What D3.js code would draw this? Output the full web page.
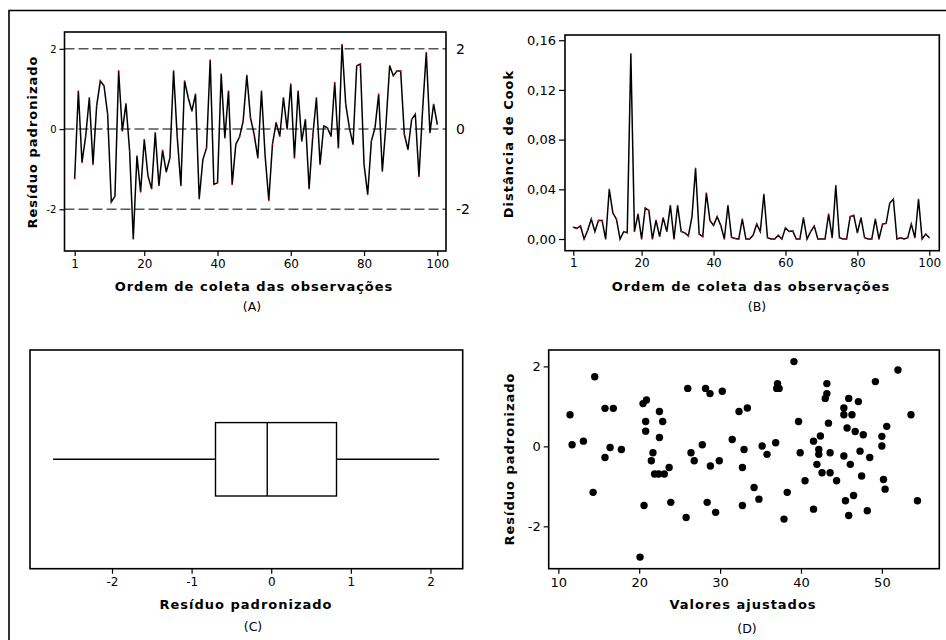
<!DOCTYPE html>
<html><head><meta charset="utf-8">
<script src="https://cdn.jsdelivr.net/npm/d3@7"></script>
<style>
body{margin:0;background:#fff;}
svg{display:block;}
.lbl{font-family:"DejaVu Sans",sans-serif;font-weight:bold;font-size:13px;letter-spacing:1px;fill:#000;}
.tag{font-family:"DejaVu Sans",sans-serif;font-size:12.5px;fill:#000;}
.tick text{font-family:"DejaVu Sans",sans-serif;fill:#000;}
</style></head>
<body>
<svg id="c" width="946" height="640"></svg>
<script>
// ---------- data ----------
const order = d3.range(1, 101);
const residuals = [-1.24,0.95,-0.83,-0.18,0.78,-0.88,0.58,1.2,1.08,0.37,
 -1.82,-1.67,1.45,-0.05,0.63,-0.55,-2.74,-0.67,-1.57,-0.26,
 -1.16,-1.49,-0.09,-1.41,-0.53,-1.07,-0.72,1.45,-0.2,-1.41,
 1.2,0.78,0.45,0.87,-1.74,-0.76,-0.47,1.72,-1.38,-1.34,
 1.37,-0.22,0.95,-1.38,-0.38,-0.2,0.2,1.34,0.28,-0.13,
 -0.72,0.95,-0.67,-1.78,-0.38,0.16,-0.18,0.78,0,1.12,
 -0.72,0.95,-0.3,0.24,-1.49,-0.18,0.78,-0.88,0.08,0.03,
 -0.18,1.16,-0.47,2.11,0.62,0.03,-0.38,1.58,1.62,-0.88,
 -1.63,-0.3,0.03,0.87,-1.05,0.12,1.58,1.33,1.45,1.45,
 -0.13,-0.51,0.24,0.37,-1.18,0.49,1.91,-0.09,0.62,0.12];
const cook = [0.0094,0.0086,0.0105,0,0.007,0.016,0.006,0.015,0.015,0,
 0.040,0.021,0.016,0,0.006,0.005,0.149,0.006,0.020,0,
 0.025,0.023,0,0.015,0.002,0.017,0.006,0.027,0,0.027,
 0.006,0.005,0.0025,0.018,0.057,0.004,0.002,0.037,0.015,0.011,
 0.018,0.011,0,0.027,0.0013,0.0005,0,0.016,0,0,
 0.003,0.012,0.006,0.036,0.001,0,0,0.003,0,0.009,
 0.006,0.0065,0,0,0.017,0,0.006,0.0105,0,0,
 0,0.020,0.001,0.043,0.001,0,0,0.018,0.019,0.005,
 0.017,0.001,0,0,0.016,0,0.012,0.0126,0.029,0.032,
 0,0.001,0,0.001,0.012,0.001,0.032,0,0.004,0.001];
const boxStats = {min:-2.74, q1:-0.70, median:-0.05, q3:0.82, max:2.11};
const fittedX = [11.45,11.7,13.1,14.5,14.3,15.77,16.8,15.77,16.4,17.8,
 20.47,20.9,20.8,20.8,20.1,20.6,22.5,22.9,22.5,21.7,
 21.5,21.9,22.4,23.1,23.7,23.9,25.8,26.0,26.4,26.8,
 27.8,28.2,28.75,28.4,28.8,29.45,30.27,29.9,31.5,32.34,
 33.37,32.96,32.76,32.76,34.2,34.8,35.2,35.8,36.87,37.1,
 37.0,37.3,39.13,38.3,37.9,39.7,39.9,40.5,41.55,42.4,
 42.2,42.2,41.97,41.55,42.6,43.2,43.2,43.0,43.4,43.6,
 43.6,44.4,45.3,45.3,46.3,45.9,47.1,45.7,46.7,47.7,
 45.3,46.1,47.3,48.5,47.5,45.5,46.5,45.9,48.2,49.2,
 50.0,50.0,50.6,50.2,50.4,51.99,53.6,54.4];
const fittedResid = [0.79,0.04,0.13,1.74,-1.15,0.95,0.95,-0.28,-0.03,-0.08,
 1.07,1.16,0.62,0.38,-2.77,-1.48,0.87,0.62,0.22,-0.16,
 -0.36,-0.69,-0.69,-0.69,-0.53,-1.4,-1.78,1.45,-0.16,-0.36,
 0.04,1.45,1.32,-1.4,-0.49,-1.65,1.38,-0.36,0.17,0.87,
 0.96,-0.08,-0.53,-1.48,-1.03,-1.32,0.01,-0.2,0.09,1.57,
 1.45,1.45,2.12,-1.15,-1.82,0.62,-0.16,-0.86,0.13,0.26,
 -0.08,-0.2,-0.45,-1.57,-0.66,1.57,1.32,1.2,0.58,-0.16,
 -0.66,-0.86,0.96,0.79,0.79,1.2,1.12,0.46,0.37,0.29,
 -0.24,-0.45,-0.12,-0.28,-0.74,-1.36,-1.23,-1.73,-1.61,1.62,
 0.25,0.01,0.5,-0.83,-1.07,1.91,0.79,-1.36];
const orderTicks = [1,20,40,60,80,100];
const residTicks = [-2,0,2];
const cookTicks = [0,0.04,0.08,0.12,0.16];
const boxTicks = [-2,-1,0,1,2];
const fitTicks = [10,20,30,40,50];

// ---------- drawing ----------
const svg = d3.select("#c");
// outer frame
svg.append("path").attr("d","M9,660 L9,10.5 L960,10.5").attr("fill","none").attr("stroke","#000").attr("stroke-width",1.6);

function frame(g, x0, y0, x1, y1){
  g.append("rect").attr("x",x0).attr("y",y0).attr("width",x1-x0).attr("height",y1-y0)
   .attr("fill","none").attr("stroke","#000").attr("stroke-width",1.6);
}
function styleAxis(sel, fs){
  sel.select(".domain").remove();
  sel.selectAll(".tick line").attr("stroke","#000").attr("stroke-width",1.2);
  sel.selectAll(".tick text").style("font-size",fs+"px");
}
const fmtInt = d => String(d);
const fmtCook = d => d.toFixed(2).replace(".", ",");

// ===== Panel A =====
{
  const L=64.5,R=446,T=32,B=251;
  const x = d3.scaleLinear().domain([-1.78,102.38]).range([L,R]);
  const y = d3.scaleLinear().domain([-3.04,2.42]).range([B,T]);
  const g = svg.append("g");
  residTicks.forEach(v=>{
    g.append("line").attr("x1",L).attr("x2",R).attr("y1",y(v)).attr("y2",y(v))
     .attr("stroke","#555").attr("stroke-width",1.5).attr("stroke-dasharray","10,4");
  });
  const line = d3.line().x((d,i)=>x(order[i])).y(d=>y(d));
  g.append("path").datum(residuals).attr("d",line).attr("fill","none").attr("stroke","#000").attr("stroke-width",1.5);
  g.selectAll("circle").data(residuals).join("circle").attr("cx",(d,i)=>x(order[i])).attr("cy",d=>y(d)).attr("r",0.8).attr("fill","#e00");
  frame(g,L,T,R,B);
  g.append("g").attr("transform",`translate(0,${B})`).call(d3.axisBottom(x).tickValues(orderTicks).tickFormat(fmtInt).tickSize(5).tickPadding(3)).call(s=>styleAxis(s,12));
  g.append("g").attr("transform",`translate(${L},0)`).call(d3.axisLeft(y).tickValues(residTicks).tickFormat(fmtInt).tickSize(5).tickPadding(3)).call(s=>styleAxis(s,10));
  g.append("g").attr("transform",`translate(${R},0)`).call(d3.axisRight(y).tickValues(residTicks).tickFormat(fmtInt).tickSize(0).tickPadding(10)).call(s=>styleAxis(s,14));
  svg.append("text").attr("class","lbl").attr("text-anchor","middle").attr("transform","translate(37,142) rotate(-90)").text("Resíduo padronizado");
  svg.append("text").attr("class","lbl").attr("text-anchor","middle").attr("x",254).attr("y",291).text("Ordem de coleta das observações");
  svg.append("text").attr("class","tag").attr("text-anchor","middle").attr("x",252).attr("y",311).text("(A)");
}
// ===== Panel B =====
{
  const L=565,R=939.3,T=35,B=250.7;
  const x = d3.scaleLinear().domain([-1.31,102.78]).range([L,R]);
  const y = d3.scaleLinear().domain([-0.0094,0.1642]).range([B,T]);
  const g = svg.append("g");
  const line = d3.line().x((d,i)=>x(order[i])).y(d=>y(d));
  g.append("path").datum(cook).attr("d",line).attr("fill","none").attr("stroke","#000").attr("stroke-width",1.5);
  g.selectAll("circle").data(cook).join("circle").attr("cx",(d,i)=>x(order[i])).attr("cy",d=>y(d)).attr("r",0.8).attr("fill","#e00");
  frame(g,L,T,R,B);
  g.append("g").attr("transform",`translate(0,${B})`).call(d3.axisBottom(x).tickValues(orderTicks).tickFormat(fmtInt).tickSize(5).tickPadding(3)).call(s=>styleAxis(s,12));
  g.append("g").attr("transform",`translate(${L},0)`).call(d3.axisLeft(y).tickValues(cookTicks).tickFormat(fmtCook).tickSize(6).tickPadding(3)).call(s=>styleAxis(s,13));
  svg.append("text").attr("class","lbl").attr("text-anchor","middle").attr("transform","translate(513,144) rotate(-90)").text("Distância de Cook");
  svg.append("text").attr("class","lbl").attr("text-anchor","middle").attr("x",751).attr("y",291).text("Ordem de coleta das observações");
  svg.append("text").attr("class","tag").attr("text-anchor","middle").attr("x",757).attr("y",311).text("(B)");
}
// ===== Panel C =====
{
  const L=30,R=462.7,T=350,B=568.7;
  const x = d3.scaleLinear().domain([-3.03,2.405]).range([L,R]);
  const g = svg.append("g");
  const cy = 459.3, h = 36.7;
  g.append("line").attr("x1",x(boxStats.min)).attr("x2",x(boxStats.q1)).attr("y1",cy).attr("y2",cy).attr("stroke","#000").attr("stroke-width",1.4);
  g.append("line").attr("x1",x(boxStats.q3)).attr("x2",x(boxStats.max)).attr("y1",cy).attr("y2",cy).attr("stroke","#000").attr("stroke-width",1.4);
  g.append("rect").attr("x",x(boxStats.q1)).attr("y",cy-h).attr("width",x(boxStats.q3)-x(boxStats.q1)).attr("height",2*h).attr("fill","#fff").attr("stroke","#000").attr("stroke-width",1.4);
  g.append("line").attr("x1",x(boxStats.median)).attr("x2",x(boxStats.median)).attr("y1",cy-h).attr("y2",cy+h).attr("stroke","#000").attr("stroke-width",1.4);
  frame(g,L,T,R,B);
  g.append("g").attr("transform",`translate(0,${B})`).call(d3.axisBottom(x).tickValues(boxTicks).tickFormat(fmtInt).tickSize(5).tickPadding(4)).call(s=>styleAxis(s,12));
  svg.append("text").attr("class","lbl").attr("text-anchor","middle").attr("x",246).attr("y",609).text("Resíduo padronizado");
  svg.append("text").attr("class","tag").attr("text-anchor","middle").attr("x",253).attr("y",631).text("(C)");
}
// ===== Panel D =====
{
  const L=548.7,R=939.3,T=350,B=568.7;
  const x = d3.scaleLinear().domain([8.81,57.1]).range([L,R]);
  const y = d3.scaleLinear().domain([-3.06,2.41]).range([B,T]);
  const g = svg.append("g");
  g.selectAll("circle").data(fittedX).join("circle").attr("cx",d=>x(d)).attr("cy",(d,i)=>y(fittedResid[i])).attr("r",3.7).attr("fill","#000");
  frame(g,L,T,R,B);
  g.append("g").attr("transform",`translate(0,${B})`).call(d3.axisBottom(x).tickValues(fitTicks).tickFormat(fmtInt).tickSize(5).tickPadding(4)).call(s=>styleAxis(s,13));
  g.append("g").attr("transform",`translate(${L},0)`).call(d3.axisLeft(y).tickValues(residTicks).tickFormat(fmtInt).tickSize(5).tickPadding(3)).call(s=>styleAxis(s,13));
  svg.append("text").attr("class","lbl").attr("text-anchor","middle").attr("transform","translate(514,459) rotate(-90)").text("Resíduo padronizado");
  svg.append("text").attr("class","lbl").attr("text-anchor","middle").attr("x",743).attr("y",609).text("Valores ajustados");
  svg.append("text").attr("class","tag").attr("text-anchor","middle").attr("x",747).attr("y",633).text("(D)");
}
</script>
</body></html>
